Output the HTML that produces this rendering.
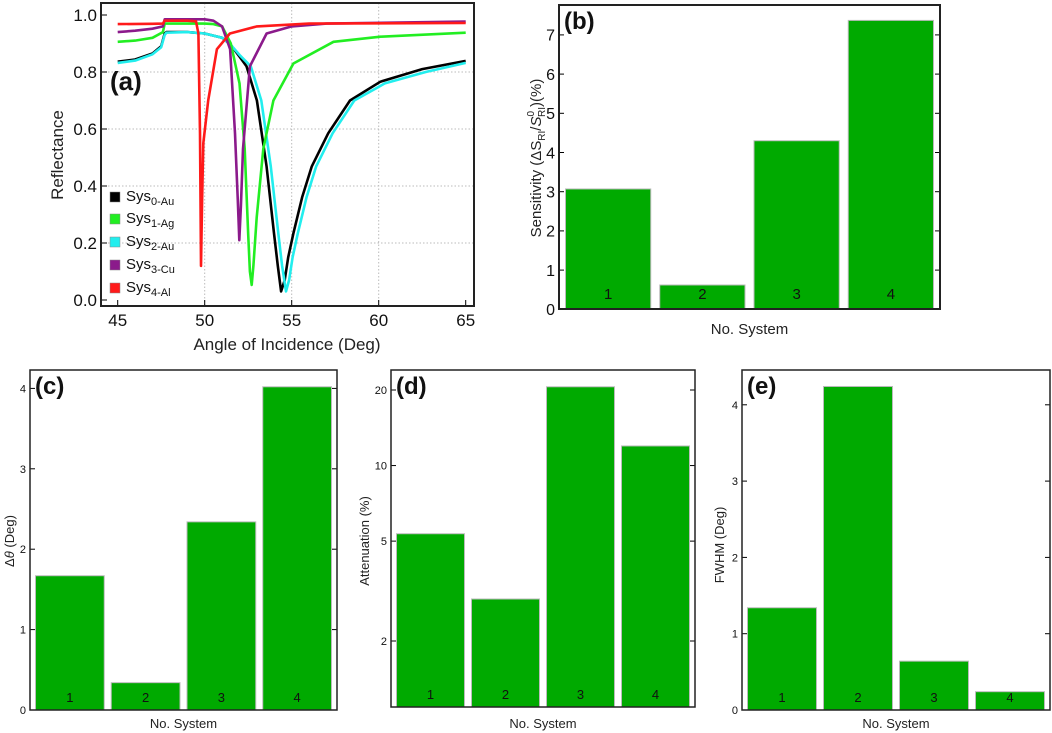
<!DOCTYPE html>
<html><head><meta charset="utf-8"><style>
body{margin:0;background:#fff;width:1052px;height:733px;overflow:hidden}
svg{display:block;font-family:"Liberation Sans",sans-serif}
</style></head><body>
<svg id="fig" width="1052" height="733" viewBox="0 0 1052 733"></svg>
<script>
// ---- Panel (a) data ----
const sys0X=[45,46,47,47.5,47.7,47.8,49,50,51,51.5,52,52.4,53.0,53.56,53.98,54.2,54.39,54.6,54.8,55.1,55.6,56.15,57.1,58.35,60.1,62.5,65];
const sys0Y=[0.836,0.844,0.865,0.89,0.935,0.94,0.94,0.935,0.92,0.895,0.854,0.82,0.70,0.468,0.234,0.12,0.03,0.07,0.15,0.234,0.36,0.468,0.585,0.70,0.766,0.81,0.839];
const sys2X=[45,46,47,47.5,47.7,47.8,49,50,51,51.5,52,52.65,53.25,53.8,54.23,54.45,54.67,54.85,55.05,55.35,55.85,56.4,57.35,58.6,60.35,62.7,65];
const sys2Y=[0.832,0.84,0.862,0.887,0.93,0.938,0.94,0.935,0.92,0.895,0.86,0.82,0.70,0.468,0.234,0.12,0.03,0.07,0.15,0.234,0.36,0.468,0.585,0.70,0.76,0.80,0.832];
const sys1X=[45,46,47,47.6,47.7,48.5,50,50.5,51,51.5,52,52.3,52.5,52.6,52.7,52.8,52.99,53.37,53.95,55.1,57.4,60.1,65];
const sys1Y=[0.906,0.91,0.92,0.94,0.97,0.97,0.97,0.968,0.96,0.90,0.76,0.53,0.23,0.10,0.053,0.12,0.29,0.53,0.70,0.83,0.906,0.924,0.938];
const sys3X=[45,46,47,47.6,47.7,49,50,50.5,51,51.46,51.74,51.9,51.99,52.08,52.2,52.6,53.56,55,57,65];
const sys3Y=[0.94,0.945,0.952,0.96,0.985,0.985,0.985,0.98,0.96,0.88,0.585,0.35,0.21,0.33,0.53,0.82,0.935,0.96,0.97,0.977];
const sys4X=[45,47,47.6,47.7,49,49.5,49.64,49.73,49.79,49.85,49.92,50.2,50.7,51.45,53,56,65];
const sys4Y=[0.968,0.969,0.97,0.98,0.98,0.978,0.935,0.585,0.12,0.35,0.55,0.70,0.88,0.935,0.96,0.97,0.972];
const xTicksA=[45,50,55,60,65];
const yTicksA=[0,0.2,0.4,0.6,0.8,1.0];
const legendNames=["0-Au","1-Ag","2-Au","3-Cu","4-Al"];
// ---- Bar panel data ----
const barCats=["1","2","3","4"];
const sensVals=[3.07,0.62,4.30,7.37];
const sensTicks=[0,1,2,3,4,5,6,7];
const dthetaVals=[1.67,0.34,2.34,4.02];
const dthetaTicks=[0,1,2,3,4];
const attenVals=[5.35,2.94,20.6,11.97];
const attenTicks=[2,5,10,20];
const fwhmVals=[1.34,4.24,0.64,0.24];
const fwhmTicks=[0,1,2,3,4];

const NS="http://www.w3.org/2000/svg";
const svg=document.getElementById('fig');
function mk(tag,attrs,parent,text){const e=document.createElementNS(NS,tag);for(const k in attrs)e.setAttribute(k,attrs[k]);if(text!==undefined)e.textContent=text;(parent||svg).appendChild(e);return e;}

// ===== Panel (a) =====
(function(){
const L=101,R=474,T=3,B=306;
const xs=v=>117.7+(v-45)*17.4;
const ys=v=>300-v*285;
const g=mk('g',{});


xTicksA.forEach(t=>{
  if(t>45&&t<65){mk('line',{x1:xs(t),x2:xs(t),y1:T,y2:B,stroke:'#bbb','stroke-dasharray':'1.5,2','stroke-width':1},g);}
  mk('line',{x1:xs(t),x2:xs(t),y1:B,y2:B-6,stroke:'#000','stroke-width':1},g);
  const tx=mk('text',{x:xs(t),y:B+20,'font-size':17,'text-anchor':'middle',fill:'#111'},g,String(t));
  
});
yTicksA.forEach(t=>{
  if(t>0&&t<1){mk('line',{x1:L,x2:R,y1:ys(t),y2:ys(t),stroke:'#bbb','stroke-dasharray':'1.5,2','stroke-width':1},g);}
  mk('line',{x1:L,x2:L+6,y1:ys(t),y2:ys(t),stroke:'#000','stroke-width':1},g);
  const tx=mk('text',{x:L-4,y:ys(t)+6,'font-size':17,'text-anchor':'end',fill:'#111'},g,t.toFixed(1));
  
});
const series=[[sys0X,sys0Y,'#000'],[sys2X,sys2Y,'#22eeee'],[sys1X,sys1Y,'#22ee22'],[sys3X,sys3Y,'#8b1a8b'],[sys4X,sys4Y,'#ff1a1a']];
const names=['series-sys0-au','series-sys2-au','series-sys1-ag','series-sys3-cu','series-sys4-al'];
series.forEach((s,i)=>{
  const d=s[0].map((x,j)=>(j?'L':'M')+xs(x).toFixed(1)+','+ys(s[1][j]).toFixed(1)).join('');
  const p=mk('path',{d:d,fill:'none',stroke:s[2],'stroke-width':2.6,'stroke-linejoin':'round'},g);
  
});
const fr=mk('rect',{x:L,y:T,width:R-L,height:B-T,fill:'none',stroke:'#222','stroke-width':2},g);

const lc=['#000','#22ee22','#22eeee','#8b1a8b','#ff1a1a'];
const ly=[197,219,242,265,288];
legendNames.forEach((n,i)=>{
  const r=mk('rect',{x:110,y:ly[i]-5,width:10,height:10,fill:lc[i],stroke:'#888','stroke-width':0.5},g);
  
  const t=mk('text',{x:126,y:ly[i]+4,'font-size':15,fill:'#111'},g);
  
  mk('tspan',{},t,'Sys');
  mk('tspan',{dy:4,'font-size':11},t,n);
});
const pl=mk('text',{x:110,y:90,'font-size':26,'font-weight':'bold',fill:'#111'},g,'(a)');

const xt=mk('text',{x:287,y:350,'font-size':17,'text-anchor':'middle',fill:'#222'},g,'Angle of Incidence (Deg)');

const yt=mk('text',{x:0,y:0,'font-size':17,'text-anchor':'middle',fill:'#222',transform:'translate(63,155) rotate(-90)'},g,'Reflectance');

})();

// ===== Bar panels =====
function barPanel(o){
  const g=mk('g',{});
  
  
  const sc=o.log?(v=>o.y0-(Math.log10(v)-Math.log10(o.vmin))*o.ppu):(v=>o.y0-v*o.ppu);
  const base=o.B;
  o.ticks.forEach(t=>{
    mk('line',{x1:o.L,x2:o.L+5,y1:sc(t),y2:sc(t),stroke:'#000','stroke-width':1},g);
    mk('line',{x1:o.R,x2:o.R-5,y1:sc(t),y2:sc(t),stroke:'#000','stroke-width':1},g);
    const tx=mk('text',{x:o.L-4,y:sc(t)+o.fs*0.36,'font-size':o.fs,'text-anchor':'end',fill:'#111'},g,String(t));
    
  });
  const n=o.vals.length, slot=(o.R-o.L-4)/n, gap=o.gap;
  o.vals.forEach((v,i)=>{
    const x=o.L+2+i*slot+gap/2, w=slot-gap, y=sc(v);
    const r=mk('rect',{x:x,y:y,width:w,height:base-y,fill:'#00aa00',stroke:'#bbb','stroke-width':1},g);
    
    const t=mk('text',{x:x+w/2,y:o.B-o.lblOff,'font-size':o.bfs,'text-anchor':'middle',fill:'#111'},g,barCats[i]);
    
  });
  const fr=mk('rect',{x:o.L,y:o.T,width:o.R-o.L,height:o.B-o.T,fill:'none',stroke:'#222','stroke-width':o.fw},g);
  
  const xt=mk('text',{x:(o.L+o.R)/2,y:o.xty,'font-size':o.tfs,'text-anchor':'middle',fill:'#222'},g,'No. System');
  
  const yt=mk('text',{x:0,y:0,'font-size':o.tfs,'text-anchor':'middle',fill:'#222',transform:'translate('+o.ytx+','+o.yty+') rotate(-90)'},g);
  
  o.ytitle(yt);
  const pl=mk('text',{x:o.L+5,y:o.T+o.pfs,'font-size':o.pfs,'font-weight':'bold',fill:'#111'},g,o.label);
  
}
barPanel({name:'sensitivity-chart',L:559,R:940,T:5,B:309,y0:309.3,ppu:39.2,ticks:sensTicks,vals:sensVals,gap:9,fs:16,bfs:15,lblOff:10,fw:2,tfs:15,xty:334,ytx:541,yty:158,pfs:24,label:'(b)',
 ytitle:t=>{mk('tspan',{},t,'Sensitivity (ΔS');mk('tspan',{dy:4,'font-size':10},t,'RI');mk('tspan',{dy:-4},t,'/');mk('tspan',{'font-style':'italic'},t,'S');mk('tspan',{dy:-7,'font-size':10},t,'0');mk('tspan',{dy:11,dx:-6,'font-size':10},t,'RI');mk('tspan',{dy:-4},t,')(%)');}});
barPanel({name:'delta-theta-chart',L:30,R:337,T:370,B:710,y0:710,ppu:80.4,ticks:dthetaTicks,vals:dthetaVals,gap:7,fs:11,bfs:13,lblOff:8,fw:1.5,tfs:13,xty:728,ytx:14,yty:541,pfs:24,label:'(c)',
 ytitle:t=>{mk('tspan',{},t,'Δ');mk('tspan',{'font-style':'italic'},t,'θ');mk('tspan',{},t,' (Deg)');}});
barPanel({name:'attenuation-chart',L:391,R:695,T:370,B:707,y0:641,vmin:2,log:true,ppu:251,ticks:attenTicks,vals:attenVals,gap:7,fs:11,bfs:13,lblOff:8,fw:1.5,tfs:13,xty:728,ytx:369,yty:541,pfs:24,label:'(d)',
 ytitle:t=>{t.textContent='Attenuation (%)';}});
barPanel({name:'fwhm-chart',L:742,R:1050,T:370,B:710,y0:710,ppu:76.3,ticks:fwhmTicks,vals:fwhmVals,gap:7,fs:11,bfs:13,lblOff:8,fw:1.5,tfs:13,xty:728,ytx:724,yty:545,pfs:24,label:'(e)',
 ytitle:t=>{t.textContent='FWHM (Deg)';}});
</script>
</body></html>
